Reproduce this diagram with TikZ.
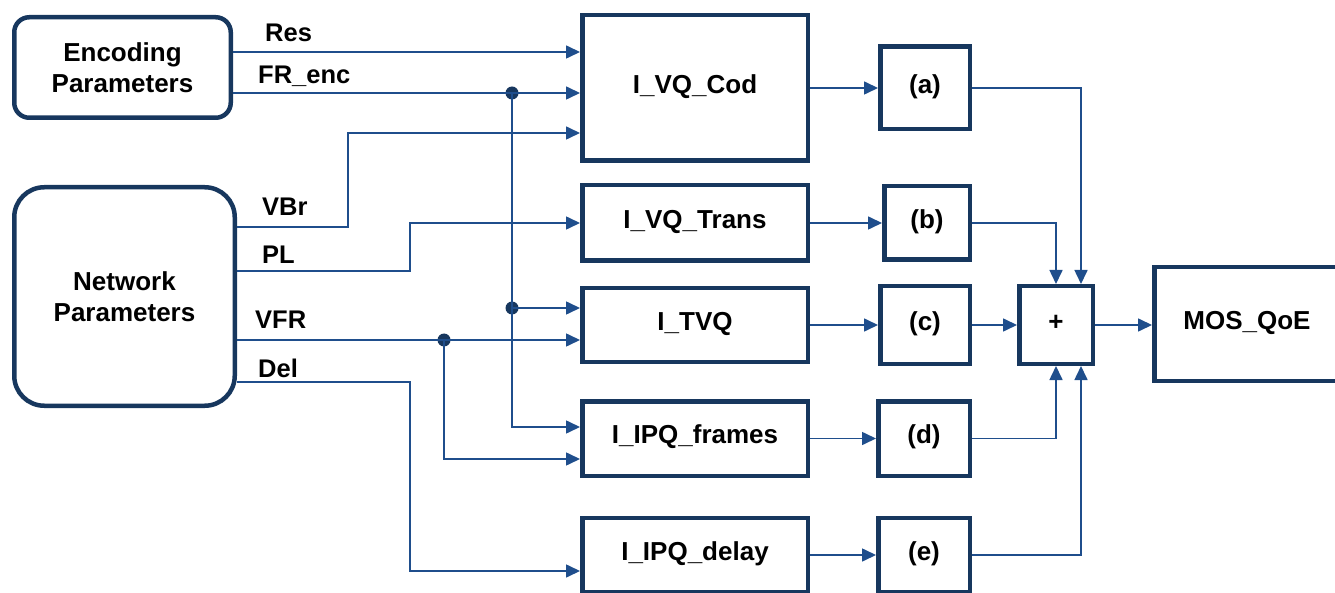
\documentclass[tikz,border=0pt]{standalone}
\usepackage{fontspec}
\setmainfont{Liberation Sans}
\usetikzlibrary{arrows.meta}
\definecolor{boxblue}{HTML}{17375E}
\definecolor{wireblue}{HTML}{1F4E8C}
\tikzstyle{param} = [rectangle, rounded corners=15pt, draw=boxblue, line width=4.5pt, align=center, inner sep=0pt, font=\fontsize{26}{30.5}\selectfont\bfseries]
\tikzstyle{block} = [rectangle, draw=boxblue, line width=4.5pt, align=center, inner sep=0pt, text height=18.6pt, text depth=8pt, font=\fontsize{26}{30}\selectfont\bfseries]
\tikzstyle{sig} = [anchor=base west, inner sep=0pt, font=\fontsize{25.5}{30}\selectfont\bfseries]
\tikzstyle{dot} = [circle, fill=boxblue, inner sep=0pt, minimum size=13pt]
\tikzstyle{arrow} = [draw=wireblue, line width=1.6pt, -{Triangle[length=14pt,width=13pt]}]

\begin{document}
\begin{tikzpicture}[x=1pt, y=-1pt]
	\useasboundingbox (0,0) rectangle (1335,593);
	\node (enc) [param, minimum width=216.5pt, minimum height=100.5pt] at (122.5,67.5) {Encoding\\Parameters};
	\node (net) [param, rounded corners=30pt, minimum width=220.5pt, minimum height=218.5pt] at (124.5,296.5) {Network\\Parameters};
	\node (cod) [block, minimum width=225.5pt, minimum height=145.5pt] at (695,88) {I\_VQ\_Cod};
	\node (trans) [block, minimum width=225.5pt, minimum height=75.5pt] at (695,223) {I\_VQ\_Trans};
	\node (tvq) [block, minimum width=225.5pt, minimum height=73.5pt] at (695,325) {I\_TVQ};
	\node (frames) [block, minimum width=225.5pt, minimum height=74.5pt] at (695,438.5) {I\_IPQ\_frames};
	\node (delay) [block, minimum width=225.5pt, minimum height=74.5pt] at (695,555) {I\_IPQ\_delay};
	\node (a) [block, minimum width=89.5pt, minimum height=82.5pt] at (925,88) {(a)};
	\node (b) [block, minimum width=85.5pt, minimum height=73.5pt] at (927,223) {(b)};
	\node (c) [block, minimum width=89.5pt, minimum height=77.5pt] at (925,325) {(c)};
	\node (d) [block, minimum width=91.5pt, minimum height=74.5pt] at (924,438.5) {(d)};
	\node (e) [block, minimum width=91.5pt, minimum height=74.5pt] at (924,555) {(e)};
	\node (plus) [block, minimum width=73.5pt, minimum height=77.5pt] at (1056,325) {+};
	\node (mos) [block, minimum width=185.5pt, minimum height=113.5pt] at (1247,324) {MOS\_QoE};
	\node (lres) [sig] at (265,41.5) {Res};
	\node (lfr) [sig] at (258,83.5) {FR\_enc};
	\node (lvbr) [sig] at (262,215.5) {VBr};
	\node (lpl) [sig] at (262,263.5) {PL};
	\node (lvfr) [sig] at (255,328.5) {VFR};
	\node (ldel) [sig] at (258,377.5) {Del};
	\coordinate (res) at (0,52);
	\coordinate (fr) at (0,93);
	\coordinate (vbr) at (348,227);
	\coordinate (vbrin) at (0,133);
	\coordinate (pl) at (410,271);
	\coordinate (vfr) at (0,340);
	\coordinate (del) at (410,382);
	\coordinate (delin) at (0,571);
	\coordinate (tvqin) at (0,308);
	\coordinate (frin1) at (0,427);
	\coordinate (frin2) at (0,459);
	\node (j1) [dot] at (512,93) {};
	\node (j2) [dot] at (512,308) {};
	\node (j3) [dot] at (444,340) {};
	\draw [arrow] (enc.east |- res) -- (cod.west |- res);
	\draw [arrow] (enc.east |- fr) -- (cod.west |- fr);
	\draw [arrow] (net.east |- vbr) -- (vbr) |- (cod.west |- vbrin);
	\draw [arrow] (net.east |- pl) -- (pl) |- (trans.west);
	\draw [arrow] (net.east |- vfr) -- (tvq.west |- vfr);
	\draw [arrow] (net.east |- del) -- (del) |- (delay.west |- delin);
	\draw [arrow] (j1.center) |- (tvq.west |- tvqin);
	\draw [arrow] (j2.center) |- (frames.west |- frin1);
	\draw [arrow] (j3.center) |- (frames.west |- frin2);
	\draw [arrow] (cod) -- (a);
	\draw [arrow] (trans) -- (b);
	\draw [arrow] (tvq) -- (c);
	\draw [arrow] (frames) -- (d);
	\draw [arrow] (delay) -- (e);
	\draw [arrow] (a) -| ([xshift=25pt]plus.north);
	\draw [arrow] (b) -| (plus.north);
	\draw [arrow] (c) -- (plus);
	\draw [arrow] (d) -| (plus.south);
	\draw [arrow] (e) -| ([xshift=25pt]plus.south);
	\draw [arrow] (plus.east) -- (mos.west |- plus.east);
\end{tikzpicture}
\end{document}
